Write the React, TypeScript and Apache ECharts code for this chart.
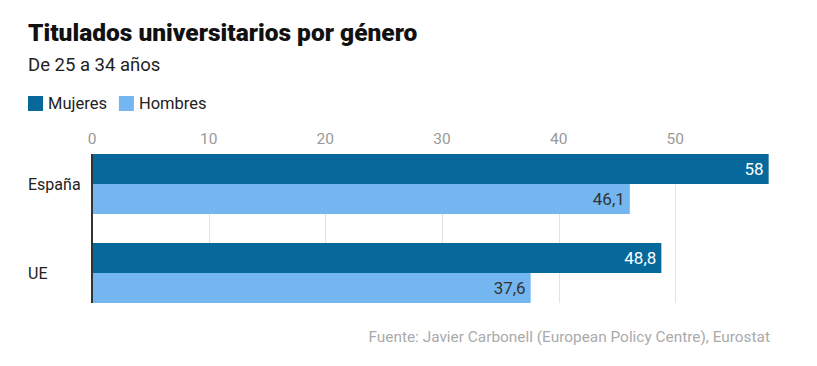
import React, { useEffect, useRef } from "react";
import * as echarts from "echarts";

const categories = ["España", "UE"];
const mujeres = [58, 48.8];
const hombres = [46.1, 37.6];
const xTicks = [0, 10, 20, 30, 40, 50];
const titleText = "Titulados universitarios por género";
const subtitleText = "De 25 a 34 años";
const sourceText = "Fuente: Javier Carbonell (European Policy Centre), Eurostat";

const FONT = "Roboto, 'Liberation Sans', sans-serif";
const fmt = (v: number) => String(v).replace(".", ",");

export default function App() {
  const ref = useRef<HTMLDivElement>(null);
  useEffect(() => {
    document.body.style.margin = "0";
    const chart = echarts.init(ref.current!, null, { renderer: "svg" });
    const option: any = {
      animation: false,
      textStyle: { fontFamily: FONT },
      title: [
        {
          text: titleText,
          left: 23,
          top: 15,
          textStyle: { fontSize: 24.5, fontWeight: 900, color: "#111", fontFamily: FONT },
        },
        {
          text: subtitleText,
          left: 23,
          top: 50,
          textStyle: { fontSize: 18.5, fontWeight: "normal", color: "#222", fontFamily: FONT },
        },
        {
          text: sourceText,
          right: 42,
          top: 324,
          textStyle: { fontSize: 15.4, fontWeight: "normal", color: "#aaa", fontFamily: FONT },
        },
      ],
      legend: {
        left: 23,
        top: 90,
        icon: "rect",
        itemWidth: 15,
        itemHeight: 15,
        itemGap: 12,
        textStyle: { fontSize: 16.5, color: "#222", fontFamily: FONT },
        data: ["Mujeres", "Hombres"],
      },
      grid: { left: 92, top: 139.5, height: 178, width: 700 },
      xAxis: {
        type: "value",
        position: "top",
        min: 0,
        max: 60,
        interval: 10,
        axisLine: { show: false },
        axisTick: { show: false },
        splitLine: { show: false },
        axisLabel: {
          color: "#999",
          fontSize: 15.5,
          margin: -7,
          showMaxLabel: false,
          fontFamily: FONT,
          formatter: (v: number) => (xTicks.includes(v) ? String(v) : ""),
        },
      },
      yAxis: {
        type: "category",
        inverse: true,
        data: categories,
        axisLine: { show: false },
        axisTick: { show: false },
        axisLabel: { align: "left", margin: 64, fontSize: 16, color: "#222", fontFamily: FONT },
      },
      series: [
        {
          name: "Mujeres",
          type: "bar",
          data: mujeres,
          barWidth: 30,
          barGap: "0%",
          itemStyle: { color: "#06689b" },
          z: 3,
          label: {
            show: true,
            position: "insideRight",
            distance: 5,
            color: "#fff",
            fontSize: 17,
            fontFamily: FONT,
            formatter: (p: any) => fmt(p.value),
          },
        },
        {
          name: "Hombres",
          type: "bar",
          data: hombres,
          barWidth: 30,
          barGap: "0%",
          itemStyle: { color: "#73b6f0" },
          z: 3,
          label: {
            show: true,
            position: "insideRight",
            distance: 5,
            color: "#333",
            fontSize: 17,
            fontFamily: FONT,
            formatter: (p: any) => fmt(p.value),
          },
        },
      ],
    };
    chart.setOption(option);
    const yTop = (chart.convertToPixel({ yAxisIndex: 0 }, categories[0]) as number) - 30;
    const yBot = (chart.convertToPixel({ yAxisIndex: 0 }, categories[categories.length - 1]) as number) + 30;
    const lines: any[] = xTicks.filter((t) => t > 0).map((t) => {
      const x = Math.round(chart.convertToPixel({ xAxisIndex: 0 }, t) as number) + 0.5;
      return {
        type: "line",
        z: 0,
        shape: { x1: x, y1: yTop, x2: x, y2: yBot },
        style: { stroke: "#e2e2e2", lineWidth: 1 },
      };
    });
    const x0 = chart.convertToPixel({ xAxisIndex: 0 }, 0) as number;
    lines.push({
      type: "line",
      z: 100,
      shape: { x1: x0, y1: yTop, x2: x0, y2: yBot },
      style: { stroke: "#333", lineWidth: 2 },
    });
    chart.setOption({ graphic: lines });
    return () => chart.dispose();
  }, []);
  return <div ref={ref} style={{ width: 817, height: 366 }} />;
}
